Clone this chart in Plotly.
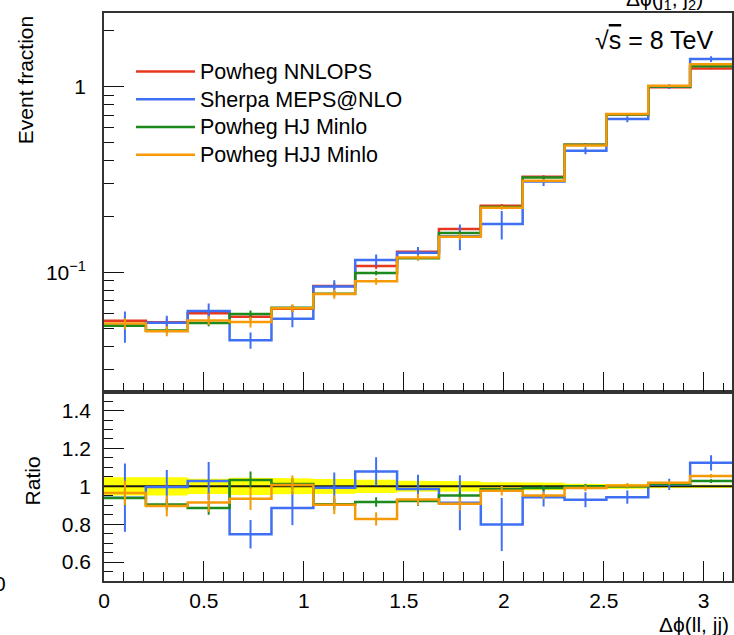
import numpy as np
import plotly.graph_objects as go

# Binning in delta phi(ll, jj): 15 equal bins from 0 to pi
N_BINS = 15
bin_edges = np.pi * np.arange(N_BINS + 1) / N_BINS
bin_centers = 0.5 * (bin_edges[:-1] + bin_edges[1:])

# Powheg NNLOPS event fractions (reference prediction)
nnlops = [0.0548, 0.0537, 0.0601, 0.0576, 0.0635, 0.0844, 0.108, 0.129,
          0.171, 0.228, 0.327, 0.487, 0.710, 0.993, 1.256]
# NNLOPS relative uncertainty (half width of the yellow band in the ratio)
nnlops_unc = [0.048, 0.048, 0.040, 0.046, 0.042, 0.039, 0.035, 0.029,
              0.027, 0.022, 0.019, 0.014, 0.013, 0.010, 0.009]

# Ratios to NNLOPS and their uncertainties
sherpa_ratio = [0.940, 0.996, 1.028, 0.747, 0.885, 0.993, 1.078, 0.986,
                0.913, 0.798, 0.943, 0.929, 0.943, 1.010, 1.124]
sherpa_err = [0.180, 0.090, 0.100, 0.075, 0.090, 0.080, 0.075, 0.075,
              0.145, 0.140, 0.050, 0.040, 0.035, 0.030, 0.040]
hj_ratio = [0.938, 0.904, 0.885, 1.034, 1.012, 0.906, 0.917, 0.922,
            0.952, 0.985, 0.991, 1.000, 1.000, 1.012, 1.028]
hj_err = [0.040, 0.030, 0.035, 0.045, 0.030, 0.030, 0.025, 0.025,
          0.020, 0.015, 0.015, 0.012, 0.010, 0.008, 0.010]
hjj_ratio = [0.965, 0.896, 0.915, 0.935, 1.007, 0.903, 0.828, 0.931,
             0.908, 0.977, 0.952, 0.991, 1.005, 1.019, 1.055]
hjj_err = [0.065, 0.055, 0.050, 0.060, 0.050, 0.050, 0.035, 0.030,
           0.035, 0.025, 0.020, 0.015, 0.012, 0.010, 0.010]

names = ["Powheg NNLOPS", "Sherpa MEPS@NLO", "Powheg HJ Minlo", "Powheg HJJ Minlo"]
colors = ["#e8371f", "#3f70f4", "#1c8a1c", "#f59a06"]

FONT = "Liberation Sans, Arial, Helvetica, sans-serif"
FS = 21

nn = np.array(nnlops)
ratios = [np.ones(N_BINS), np.array(sherpa_ratio), np.array(hj_ratio), np.array(hjj_ratio)]
ratio_errs = [np.array(nnlops_unc), np.array(sherpa_err), np.array(hj_err), np.array(hjj_err)]

fig = go.Figure()


def step_y(vals):
    vals = list(vals)
    return vals + [vals[-1]]


# ---- ratio panel: yellow NNLOPS uncertainty band ----
unc = np.array(nnlops_unc)
band_x, band_up, band_lo = [], [], []
for i in range(N_BINS):
    band_x += [bin_edges[i], bin_edges[i + 1]]
    band_up += [1 + unc[i], 1 + unc[i]]
    band_lo += [1 - unc[i], 1 - unc[i]]
fig.add_trace(go.Scatter(
    x=band_x + band_x[::-1], y=band_up + band_lo[::-1],
    fill="toself", fillcolor="#ffff00", line=dict(width=0),
    mode="lines", xaxis="x", yaxis="y2", showlegend=False, hoverinfo="skip"))
fig.add_trace(go.Scatter(
    x=bin_edges, y=step_y(np.ones(N_BINS)), mode="lines", line_shape="hv",
    line=dict(color="#1a1a1a", width=2), xaxis="x", yaxis="y2",
    showlegend=False, hoverinfo="skip"))

for k in range(1, 4):
    fig.add_trace(go.Scatter(
        x=bin_edges, y=step_y(ratios[k]), mode="lines", line_shape="hv",
        line=dict(color=colors[k], width=2.5), xaxis="x", yaxis="y2",
        showlegend=False))
    fig.add_trace(go.Scatter(
        x=bin_centers, y=ratios[k], mode="markers", marker=dict(size=1, color=colors[k], opacity=0),
        error_y=dict(type="data", array=ratio_errs[k], color=colors[k], thickness=2, width=0),
        xaxis="x", yaxis="y2", showlegend=False))

# ---- main panel: event fractions ----
for k in range(4):
    vals = nn * ratios[k]
    rel = ratio_errs[k] / ratios[k]
    fig.add_trace(go.Scatter(
        x=bin_edges, y=step_y(vals), mode="lines", line_shape="hv",
        line=dict(color=colors[k], width=2.5),
        name="<span style='font-size:21.5px'>" + names[k] + "</span>",
        xaxis="x2", yaxis="y"))
    fig.add_trace(go.Scatter(
        x=bin_centers, y=vals, mode="markers", marker=dict(size=1, color=colors[k], opacity=0),
        error_y=dict(type="data", array=vals * rel, color=colors[k], thickness=2, width=0),
        xaxis="x2", yaxis="y", showlegend=False))

axis_common = dict(showline=True, linecolor="#333333", linewidth=1.5, mirror=True,
                   ticks="inside", tickcolor="#111111", tickwidth=1.3,
                   showgrid=False, zeroline=False,
                   tickfont=dict(family=FONT, size=FS, color="black"))

log_minor = [0.03, 0.04, 0.05, 0.06, 0.07, 0.08, 0.09,
             0.2, 0.3, 0.4, 0.5, 0.6, 0.7, 0.8, 0.9, 2]

fig.update_layout(
    width=734, height=635,
    margin=dict(l=104, r=0, t=13, b=54),
    paper_bgcolor="white", plot_bgcolor="white",
    font=dict(family=FONT, size=FS, color="black"),
    xaxis=dict(domain=[0, 1], anchor="y2", range=[0, np.pi],
               tickmode="linear", tick0=0, dtick=0.5, ticklen=20,
               ticklabelstandoff=0,
               minor=dict(dtick=0.1, tick0=0, ticks="inside", ticklen=9,
                          tickcolor="#111111", tickwidth=1.3),
               **axis_common),
    xaxis2=dict(domain=[0, 1], anchor="y", matches="x", range=[0, np.pi],
                showticklabels=False,
                tickmode="linear", tick0=0, dtick=0.5, ticklen=20,
                minor=dict(dtick=0.1, tick0=0, ticks="inside", ticklen=9,
                           tickcolor="#111111", tickwidth=1.3),
                **axis_common),
    yaxis=dict(domain=[1 / 3, 1], anchor="x2", type="log",
               range=[np.log10(0.0227), np.log10(2.5)],
               tickmode="array", tickvals=[0.1, 1],
               ticktext=["10<sup>\u22121</sup>", "1"], ticklen=20,
               ticklabelstandoff=12,
               minor=dict(tickmode="array", tickvals=log_minor, ticks="inside",
                          ticklen=10, tickcolor="#111111", tickwidth=1.3),
               **axis_common),
    yaxis2=dict(domain=[0, 1 / 3], anchor="x", range=[0.5, 1.5],
                tickmode="array", tickvals=[0.6, 0.8, 1.0, 1.2, 1.4],
                ticktext=["0.6", "0.8", "1", "1.2", "1.4"], ticklen=20,
                ticklabelstandoff=7,
                minor=dict(dtick=0.05, tick0=0.5, ticks="inside", ticklen=9,
                           tickcolor="#111111", tickwidth=1.3),
                **axis_common),
    legend=dict(x=0.043, y=0.930, xanchor="left", yanchor="top",
                bgcolor="rgba(0,0,0,0)", font=dict(family=FONT, size=19),
                traceorder="normal", itemwidth=59),
    showlegend=True,
)

annotations = [
    dict(text="Event fraction", x=-0.125, y=0.997, xref="paper", yref="paper",
         xanchor="center", yanchor="top", textangle=-90, showarrow=False,
         font=dict(family=FONT, size=FS)),
    dict(text="Ratio", x=-0.114, y=0.176, xref="paper", yref="paper",
         xanchor="center", yanchor="middle", textangle=-90, showarrow=False,
         font=dict(family=FONT, size=FS)),
    dict(text="\u0394\u03d5(ll, jj)", x=0.998, y=-0.0765, xref="paper", yref="paper",
         xanchor="right", yanchor="middle", showarrow=False,
         font=dict(family=FONT, size=FS)),
    dict(text="\u0394\u03d5(j<sub>1</sub>, j<sub>2</sub>)", x=0.957, y=0.996,
         xref="paper", yref="paper", xanchor="right", yanchor="bottom",
         showarrow=False, font=dict(family=FONT, size=FS)),
    dict(text="\u221a<span style='text-decoration:overline'>s</span> = 8 TeV",
         x=0.9746, y=0.9525, xref="paper", yref="paper", xanchor="right",
         yanchor="middle", showarrow=False, font=dict(family=FONT, size=25)),
    dict(text="0", x=-0.165, y=-0.005, xref="paper", yref="paper",
         xanchor="center", yanchor="middle", showarrow=False,
         font=dict(family=FONT, size=FS)),
]
fig.update_layout(annotations=annotations)

fig.write_html("out.html")
